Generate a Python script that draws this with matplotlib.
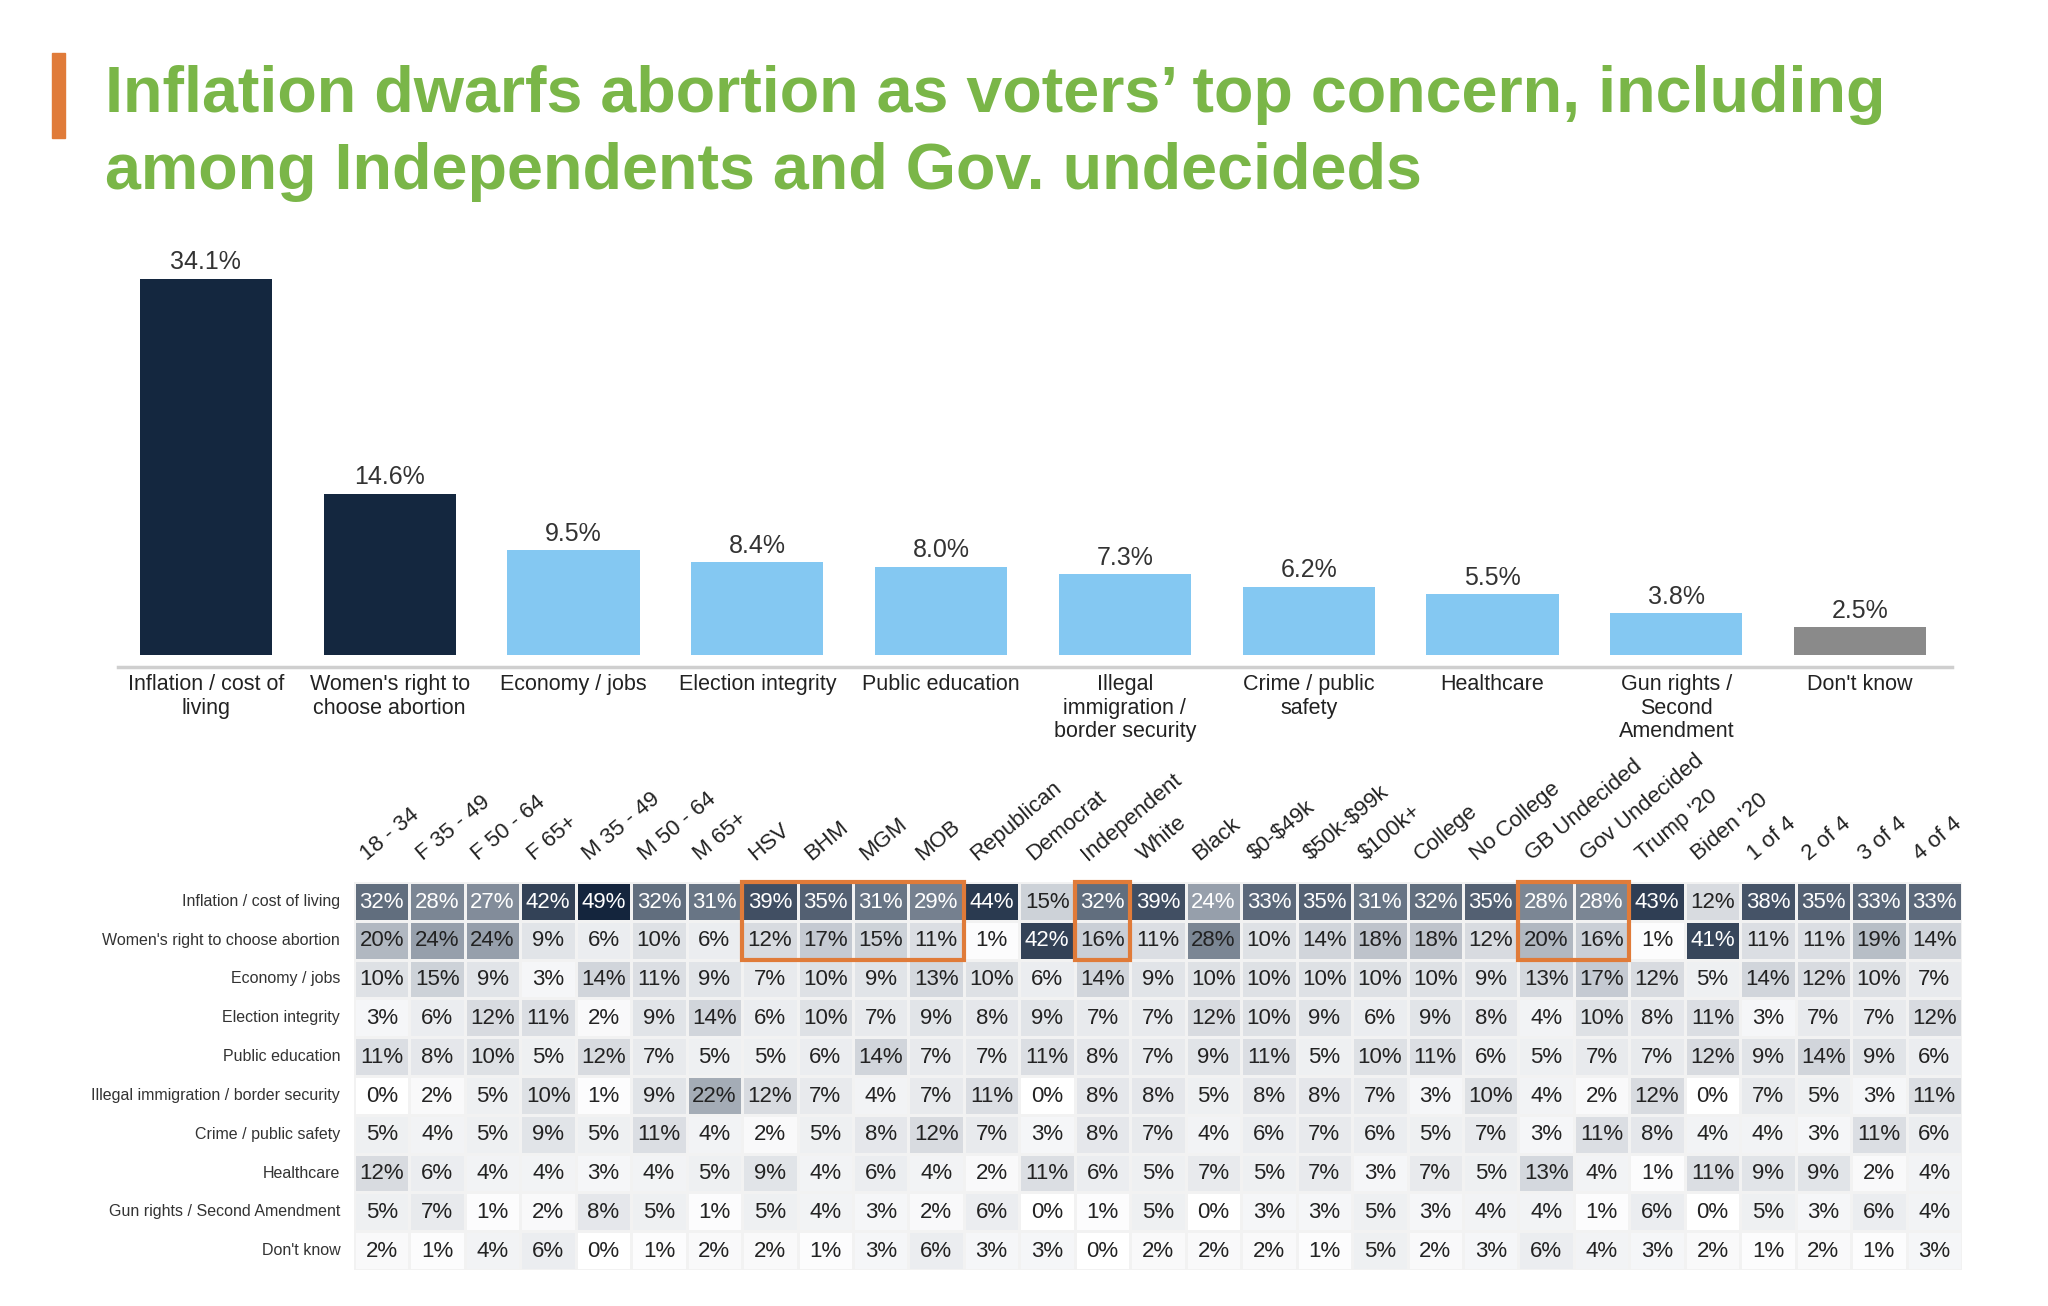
import matplotlib
matplotlib.use("Agg")
import matplotlib.pyplot as plt
import numpy as np
from matplotlib.patches import Rectangle
from matplotlib.colors import LinearSegmentedColormap
from matplotlib.lines import Line2D

plt.rcParams['font.family'] = ['Liberation Sans', 'DejaVu Sans']
plt.rcParams['text.parse_math'] = False

bar_labels = ["Inflation / cost of\nliving", "Women's right to\nchoose abortion", "Economy / jobs",
              "Election integrity", "Public education", "Illegal\nimmigration /\nborder security",
              "Crime / public\nsafety", "Healthcare", "Gun rights /\nSecond\nAmendment", "Don't know"]
bar_values = [34.1, 14.6, 9.5, 8.4, 8.0, 7.3, 6.2, 5.5, 3.8, 2.5]
bar_colors = ["#14273f", "#14273f"] + ["#84c8f2"] * 7 + ["#8a8a8a"]

row_labels = ["Inflation / cost of living", "Women's right to choose abortion", "Economy / jobs",
              "Election integrity", "Public education", "Illegal immigration / border security",
              "Crime / public safety", "Healthcare", "Gun rights / Second Amendment", "Don't know"]
col_labels = ["18 - 34", "F 35 - 49", "F 50 - 64", "F 65+", "M 35 - 49", "M 50 - 64", "M 65+",
              "HSV", "BHM", "MGM", "MOB", "Republican", "Democrat", "Independent", "White", "Black",
              "$0-$49k", "$50k-$99k", "$100k+", "College", "No College", "GB Undecided",
              "Gov Undecided", "Trump '20", "Biden '20", "1 of 4", "2 of 4", "3 of 4", "4 of 4"]
heat = [
    [32, 28, 27, 42, 49, 32, 31, 39, 35, 31, 29, 44, 15, 32, 39, 24, 33, 35, 31, 32, 35, 28, 28, 43, 12, 38, 35, 33, 33],
    [20, 24, 24, 9, 6, 10, 6, 12, 17, 15, 11, 1, 42, 16, 11, 28, 10, 14, 18, 18, 12, 20, 16, 1, 41, 11, 11, 19, 14],
    [10, 15, 9, 3, 14, 11, 9, 7, 10, 9, 13, 10, 6, 14, 9, 10, 10, 10, 10, 10, 9, 13, 17, 12, 5, 14, 12, 10, 7],
    [3, 6, 12, 11, 2, 9, 14, 6, 10, 7, 9, 8, 9, 7, 7, 12, 10, 9, 6, 9, 8, 4, 10, 8, 11, 3, 7, 7, 12],
    [11, 8, 10, 5, 12, 7, 5, 5, 6, 14, 7, 7, 11, 8, 7, 9, 11, 5, 10, 11, 6, 5, 7, 7, 12, 9, 14, 9, 6],
    [0, 2, 5, 10, 1, 9, 22, 12, 7, 4, 7, 11, 0, 8, 8, 5, 8, 8, 7, 3, 10, 4, 2, 12, 0, 7, 5, 3, 11],
    [5, 4, 5, 9, 5, 11, 4, 2, 5, 8, 12, 7, 3, 8, 7, 4, 6, 7, 6, 5, 7, 3, 11, 8, 4, 4, 3, 11, 6],
    [12, 6, 4, 4, 3, 4, 5, 9, 4, 6, 4, 2, 11, 6, 5, 7, 5, 7, 3, 7, 5, 13, 4, 1, 11, 9, 9, 2, 4],
    [5, 7, 1, 2, 8, 5, 1, 5, 4, 3, 2, 6, 0, 1, 5, 0, 3, 3, 5, 3, 4, 4, 1, 6, 0, 5, 3, 6, 4],
    [2, 1, 4, 6, 0, 1, 2, 2, 1, 3, 6, 3, 3, 0, 2, 2, 2, 1, 5, 2, 3, 6, 4, 3, 2, 1, 2, 1, 3],
]
boxes = [(7, 10), (13, 13), (21, 22)]  # column ranges, rows 0-1

W, H = 2048, 1306
fig = plt.figure(figsize=(W / 100, H / 100), dpi=100)

def fax(x0, y0, x1, y1):
    return fig.add_axes([x0 / W, 1 - y1 / H, (x1 - x0) / W, (y1 - y0) / H])

# title
fig.patches.append(Rectangle((52 / W, 1 - 138 / H), 13 / W, 85 / H, transform=fig.transFigure,
                             color="#e07b39"))
fig.text(105 / W, 1 - 95 / H, "Inflation dwarfs abortion as voters\u2019 top concern, including",
         fontsize=46.5, fontweight='bold', color="#7ab648", va='center')
fig.text(105 / W, 1 - 172 / H, "among Independents and Gov. undecideds",
         fontsize=46.5, fontweight='bold', color="#7ab648", va='center')

# bar chart
ax = fax(114, 240, 1952, 655)
x = np.arange(len(bar_values))
ax.bar(x, bar_values, width=0.72, color=bar_colors)
for xi, v in zip(x, bar_values):
    ax.text(xi, v + 0.4, f"{v:.1f}%", ha='center', va='bottom', fontsize=18, color="#333333")
ax.set_xlim(-0.5, len(bar_values) - 0.5)
ax.set_ylim(0, 37.6)
ax.set_yticks([])
ax.set_xticks(x)
ax.set_xticklabels(bar_labels, fontsize=15.5, color="#222222", linespacing=1.15)
ax.tick_params(axis='x', length=0, pad=14)
for s in ['top', 'left', 'right', 'bottom']:
    ax.spines[s].set_visible(False)
fig.add_artist(Line2D([118 / W, 1952 / W], [1 - 667 / H, 1 - 667 / H], color="#cfcfcf", lw=2.5))

# heatmap
hx = fax(354, 882, 1962, 1270)
data = np.array(heat, dtype=float)
cmap = LinearSegmentedColormap.from_list("g", ["#ffffff", "#c9ced5", "#5d6a7b", "#14253d"], N=256)
nr, nc = data.shape
hx.pcolormesh(np.arange(nc + 1), np.arange(nr + 1), data, cmap=cmap, vmin=0, vmax=49,
              edgecolors="#f2f2f2", linewidth=1)
hx.set_xlim(0, nc)
hx.set_ylim(nr, 0)
hx.axis('off')
for r in range(nr):
    for c in range(nc):
        v = data[r, c]
        white = (v >= 20) if r == 0 else (v >= 30)
        hx.text(c + 0.5, r + 0.52, f"{int(v)}%", ha='center', va='center', fontsize=16,
                color='white' if white else '#222222')
    hx.text(-0.25, r + 0.5, row_labels[r], ha='right', va='center', fontsize=11.5, color="#333333")
for c in range(nc):
    hx.text(c + 0.3, -0.45, col_labels[c], ha='left', va='bottom', rotation=40,
            rotation_mode='anchor', fontsize=16, color="#222222")
for c0, c1 in boxes:
    hx.add_patch(Rectangle((c0, 0), c1 - c0 + 1, 2, fill=False, edgecolor="#e07b39", lw=3, zorder=5,
                           clip_on=False))

fig.savefig("out.png", dpi=100, facecolor='white')
